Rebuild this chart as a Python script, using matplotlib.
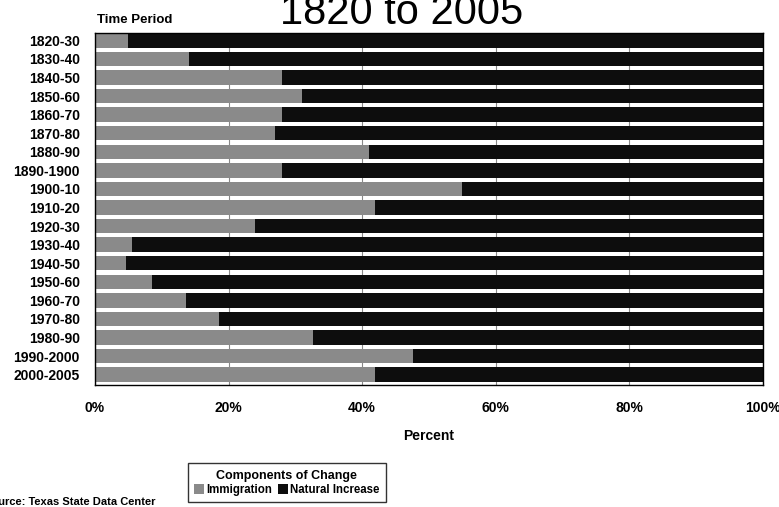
import matplotlib
matplotlib.use("Agg")
import matplotlib.pyplot as plt
import numpy as np

plt.rcParams['font.family'] = ['Liberation Sans', 'DejaVu Sans']

# Time periods and share of growth (percent)
periods = ['1820-30', '1830-40', '1840-50', '1850-60', '1860-70', '1870-80',
           '1880-90', '1890-1900', '1900-10', '1910-20', '1920-30', '1930-40',
           '1940-50', '1950-60', '1960-70', '1970-80', '1980-90', '1990-2000',
           '2000-2005']
immigration = [5, 14, 28, 31, 28, 27, 41, 28, 55, 42, 24, 5.5, 4.6, 8.6, 13.7,
               18.6, 32.7, 47.7, 42]
natural_increase = [100 - v for v in immigration]
x_ticks = [0, 20, 40, 60, 80, 100]

IMM_COLOR = '#8a8a8a'
NAT_COLOR = '#0d0d0d'

fig = plt.figure(figsize=(7.79, 5.07), dpi=100)
ax = fig.add_axes([0.122, 0.241, 0.857, 0.694])

y = np.arange(len(periods))
ax.barh(y, immigration, height=0.78, color=IMM_COLOR, label='Immigration', zorder=2)
ax.barh(y, natural_increase, left=immigration, height=0.78, color=NAT_COLOR,
        label='Natural Increase', zorder=2)

ax.set_xlim(0, 100)
ax.set_ylim(18.55, -0.4)
ax.set_yticks(y)
ax.set_yticklabels(periods, fontsize=10, fontweight='bold')
ax.set_xticks(x_ticks)
ax.set_xticklabels([f'{t}%' for t in x_ticks], fontsize=10, fontweight='bold')
ax.tick_params(axis='y', length=0, pad=11)
ax.tick_params(axis='x', length=0, pad=12)
ax.xaxis.grid(True, color='#888888', linewidth=0.8, zorder=1)
ax.set_axisbelow(True)
for s in ax.spines.values():
    s.set_color('black')
    s.set_linewidth(1.0)

ax.set_xlabel('Percent', fontsize=10, fontweight='bold', labelpad=10)

fig.text(0.124, 0.955, 'Time Period', fontsize=9.5, fontweight='bold')
fig.text(0.515, 0.952, '1820 to 2005', fontsize=30, ha='center', va='baseline')

leg = fig.legend(loc='upper center', bbox_to_anchor=(0.368, 0.086), ncol=2,
                 title='Components of Change', frameon=True,
                 prop={'size': 8.3, 'weight': 'bold'},
                 fancybox=False, edgecolor='black', handlelength=0.9,
                 handleheight=0.9, handletextpad=0.15, columnspacing=0.5,
                 borderpad=0.55, labelspacing=0.2, borderaxespad=0)
leg.get_title().set_fontweight('bold')
leg.get_title().set_fontsize(9)
leg.get_frame().set_linewidth(1.0)

fig.text(-0.02, 0.0, 'Source: Texas State Data Center', fontsize=8,
         fontweight='bold', va='bottom')

fig.savefig('out.png', dpi=100)
